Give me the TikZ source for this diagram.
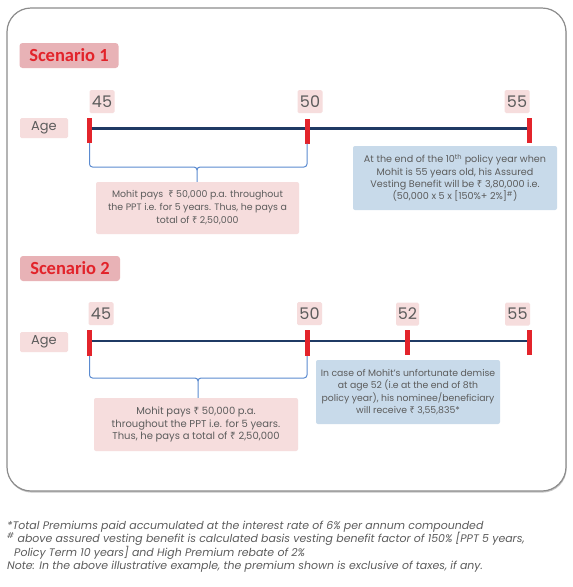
\documentclass[tikz,border=0pt]{standalone}
\usepackage{fontspec}
\setmainfont{Poppins}
\newfontfamily\scenfont{Carlito}
\newfontfamily\rupeefont{Noto Sans}
\newcommand\Rs{{\rupeefont ₹}}
\usetikzlibrary{shadows}
\definecolor{pinkL}{HTML}{F6DDDD}
\definecolor{scenfill}{HTML}{E8B2B6}
\definecolor{scenred}{HTML}{E2232A}
\definecolor{blueL}{HTML}{C8DAEA}
\definecolor{txtgray}{HTML}{5C5C5C}
\definecolor{navy}{HTML}{1F3A64}
\definecolor{tickred}{HTML}{E3242B}
\definecolor{bracecol}{HTML}{5B8BD0}
\definecolor{framegray}{HTML}{8C8C8C}
\tikzset{
  frame/.style={draw=framegray, line width=1.2pt, rounded corners=24pt, fill=white,
    drop shadow={shadow xshift=0.6pt, shadow yshift=-1.6pt, opacity=0.45, fill=gray}},
  scen/.style={fill=scenfill, rounded corners=3pt, inner sep=0pt, minimum width=99pt,
    minimum height=25pt, text=scenred, font=\scenfont\bfseries\fontsize{18.5}{20}\selectfont},
  agebox/.style={fill=pinkL, rounded corners=1.5pt, inner sep=0pt, minimum width=48pt,
    minimum height=20pt, text=txtgray, font=\fontsize{13}{14}\selectfont},
  numbox/.style={fill=pinkL, rounded corners=1.5pt, inner sep=0pt, minimum width=25pt,
    minimum height=23pt, text=txtgray, font=\fontsize{16}{17}\selectfont},
  tickmark/.style={fill=tickred, inner sep=0pt, minimum width=5pt, minimum height=25pt},
  timeline/.style={draw=navy, line width=2.4pt},
  bracestyle/.style={draw=bracecol, line width=1pt},
  pinkbox/.style={fill=pinkL, rounded corners=2pt, inner sep=0pt, align=center,
    text=txtgray},
  bluebox/.style={fill=blueL, rounded corners=2pt, inner sep=0pt, align=center,
    text=txtgray},
}
\begin{document}
\begin{tikzpicture}[x=1pt,y=-1pt]
\useasboundingbox (0,0) rectangle (573,587);
\fill[white] (0,0) rectangle (573,587);
\path[frame] (7,8) rectangle (566,491);

% ---------- Scenario 1 ----------
\node[scen] (s1) at (69,55.5) {Scenario 1};
\node[agebox] (age1) at (44,128) {Age};
\node[numbox] (n45a) at (102,101.5) {45};
\node[numbox] (n50a) at (310,101.5) {50};
\node[numbox] (n55a) at (517,101.5) {55};
\coordinate (la1) at (89.5,128.5);
\coordinate (lb1) at (529.5,128.5);
\draw[timeline] (la1) -- (lb1);
\node[tickmark] (t45a) at (89.5,130.5) {};
\node[tickmark] (t50a) at (307,131) {};
\node[tickmark] (t55a) at (529.5,130) {};
\node[pinkbox, minimum width=203pt, minimum height=52pt,
  font=\fontsize{9.4}{13}\selectfont] (p1) at (197.5,208)
  {Mohit pays \ \Rs\ 50,000 p.a. throughout\\the PPT i.e. for 5 years. Thus, he pays a\\total of \Rs\ 2,50,000};
\node[bluebox, minimum width=204pt, minimum height=64pt,
  font=\fontsize{9.6}{12.3}\selectfont] (b1) at (455,178)
  {At the end of the 10\textsuperscript{th} policy year when\\Mohit is 55 years old, his Assured\\Vesting Benefit will be \Rs\ 3,80,000 i.e.\\(50,000 x 5 x [150\%+ 2\%]\textsuperscript{\#})};
\draw[bracestyle] (t45a.south) -- (89.5,164) to[out=-90,in=180] (92.5,167) -- (194,167)
  to[out=0,in=90] (197,170) -- (p1.north -| 197,0);
\draw[bracestyle] (t50a.south) -- (307,164) to[out=-90,in=0] (304,167) -- (200,167)
  to[out=180,in=90] (197,170);

% ---------- Scenario 2 ----------
\node[scen, minimum width=100pt] (s2) at (70,268.5) {Scenario 2};
\node[agebox] (age2) at (44,342) {Age};
\node[numbox] (n45b) at (101,313.5) {45};
\node[numbox] (n50b) at (309.5,313.5) {50};
\node[numbox, minimum width=23pt] (n52b) at (407.5,314) {52};
\node[numbox] (n55b) at (517.5,314) {55};
\coordinate (la2) at (89.5,341);
\coordinate (lb2) at (529.5,341);
\draw[timeline] (la2) -- (lb2);
\node[tickmark, minimum height=26pt] (t45b) at (89.5,343) {};
\node[tickmark, minimum height=26pt] (t50b) at (307,343) {};
\node[tickmark] (t52b) at (407.5,342.5) {};
\node[tickmark] (t55b) at (529.5,342.5) {};
\node[pinkbox, minimum width=204pt, minimum height=53pt,
  font=\fontsize{10}{12.6}\selectfont] (p2) at (196,424.5)
  {Mohit pays \Rs\ 50,000 p.a.\\throughout the PPT i.e. for 5 years.\\Thus, he pays a total of \Rs\ 2,50,000};
\node[bluebox, minimum width=184pt, minimum height=64pt,
  font=\fontsize{9.3}{12.3}\selectfont] (b2) at (408,392)
  {In case of Mohit's unfortunate demise\\at age 52 (i.e at the end of 8th\\policy year), his nominee/beneficiary\\will receive \Rs\ 3,55,835*};
\draw[bracestyle] (t45b.south) -- (89.5,375) to[out=-90,in=180] (92.5,378) -- (195,378)
  to[out=0,in=90] (198,381) -- (p2.north -| 198,0);
\draw[bracestyle] (t50b.south) -- (307,375) to[out=-90,in=0] (304,378) -- (201,378)
  to[out=180,in=90] (198,381);

% ---------- Footnotes ----------
\node[anchor=north west, inner sep=0pt, align=left, text=txtgray,
  font=\itshape\fontsize{10.95}{13.3}\selectfont] (notes) at (7,521)
  {*Total Premiums paid accumulated at the interest rate of 6\% per annum compounded\\
   \textsuperscript{\#} above assured vesting benefit is calculated basis vesting benefit factor of 150\% [PPT 5 years,\\
   \hspace*{7pt}Policy Term 10 years] and High Premium rebate of 2\%\\
   Note: In the above illustrative example, the premium shown is exclusive of taxes, if any.};
\end{tikzpicture}
\end{document}
